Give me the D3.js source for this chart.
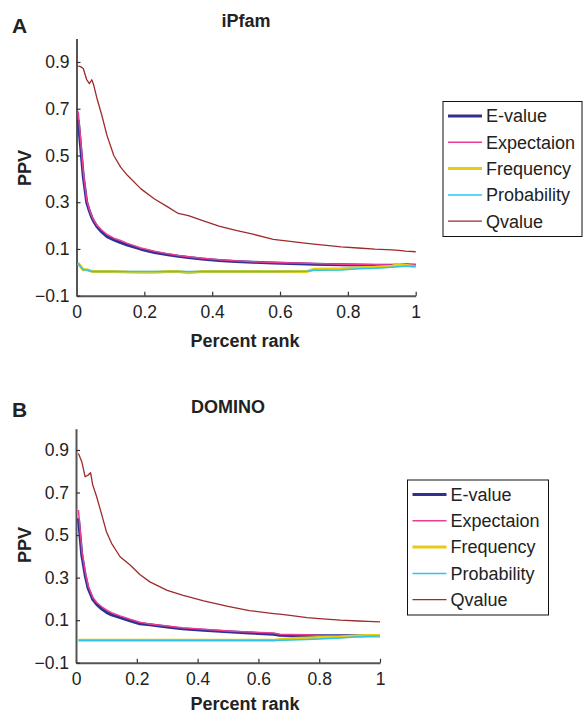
<!DOCTYPE html>
<html>
<head>
<meta charset="utf-8">
<script src="https://cdn.jsdelivr.net/npm/d3@7"></script>
<style>
  body { margin: 0; background: #fff; }
  svg text { font-family: "Liberation Sans", Arial, Helvetica, sans-serif; fill: #222; }
</style>
</head>
<body>
<div id="chart"></div>
<script>
// series names and colours (legend order)
const seriesNames = ["E-value", "Expectaion", "Frequency", "Probability", "Qvalue"];
const seriesColors = ["#2e3192", "#ec3d96", "#e8cc10", "#2ec4ef", "#9e2a2b"];
const seriesWidths = [3, 1.5, 3, 1.5, 1.3];

const yTicks = [-0.1, 0.1, 0.3, 0.5, 0.7, 0.9];
const xTicks = [0, 0.2, 0.4, 0.6, 0.8, 1];

// panel A - iPfam
const rankA = [0.005, 0.012, 0.02, 0.03, 0.038, 0.045, 0.05, 0.06, 0.075, 0.09, 0.11, 0.13, 0.15, 0.19, 0.23, 0.27, 0.3, 0.33, 0.37, 0.42, 0.47, 0.52, 0.58, 0.68, 0.7, 0.78, 0.83, 0.88, 0.93, 0.95, 0.97, 1.0];
const evalueA = [0.653, 0.54, 0.41, 0.30, 0.262, 0.235, 0.22, 0.196, 0.172, 0.153, 0.139, 0.127, 0.117, 0.099, 0.085, 0.075, 0.069, 0.063, 0.057, 0.051, 0.046, 0.043, 0.04, 0.036, 0.035, 0.032, 0.031, 0.03, 0.03, 0.031, 0.032, 0.03];
const expectA = [0.689, 0.57, 0.43, 0.31, 0.268, 0.24, 0.226, 0.202, 0.18, 0.162, 0.146, 0.136, 0.124, 0.104, 0.09, 0.079, 0.072, 0.067, 0.06, 0.054, 0.049, 0.045, 0.042, 0.039, 0.038, 0.035, 0.033, 0.032, 0.031, 0.031, 0.032, 0.033];
const freqA = [0.039, 0.025, 0.011, 0.011, 0.008, 0.004, 0.004, 0.004, 0.004, 0.004, 0.004, 0.003, 0.001, 0.0, 0.0, 0.004, 0.004, -0.002, 0.004, 0.004, 0.004, 0.004, 0.004, 0.004, 0.013, 0.015, 0.02, 0.022, 0.026, 0.034, 0.03, 0.024];
const probA = [0.039, 0.025, 0.011, 0.01, 0.007, 0.004, 0.004, 0.004, 0.004, 0.004, 0.004, 0.004, 0.004, 0.004, 0.004, 0.004, 0.004, 0.004, 0.004, 0.004, 0.004, 0.004, 0.004, 0.005, 0.009, 0.01, 0.015, 0.017, 0.022, 0.024, 0.026, 0.026];
const qvalueA = [0.882, 0.88, 0.872, 0.824, 0.807, 0.824, 0.805, 0.746, 0.67, 0.585, 0.50, 0.45, 0.415, 0.357, 0.314, 0.279, 0.252, 0.243, 0.222, 0.198, 0.179, 0.163, 0.141, 0.124, 0.121, 0.109, 0.104, 0.099, 0.096, 0.094, 0.091, 0.088];

// panel B - DOMINO
const rankB = [0.008, 0.019, 0.03, 0.04, 0.048, 0.055, 0.068, 0.085, 0.1, 0.117, 0.145, 0.178, 0.21, 0.243, 0.3, 0.35, 0.42, 0.5, 0.57, 0.65, 0.67, 0.71, 0.76, 0.8, 0.87, 0.93, 0.96, 1.0];
const evalueB = [0.579, 0.406, 0.312, 0.249, 0.222, 0.198, 0.174, 0.152, 0.137, 0.125, 0.112, 0.097, 0.083, 0.078, 0.068, 0.059, 0.053, 0.045, 0.04, 0.034, 0.029, 0.028, 0.028, 0.027, 0.027, 0.027, 0.027, 0.027];
const expectB = [0.618, 0.43, 0.33, 0.262, 0.232, 0.208, 0.183, 0.163, 0.148, 0.135, 0.12, 0.104, 0.09, 0.082, 0.072, 0.064, 0.057, 0.049, 0.044, 0.04, 0.034, 0.032, 0.031, 0.028, 0.027, 0.026, 0.027, 0.027];
const freqB = [0.005, 0.005, 0.005, 0.005, 0.005, 0.005, 0.005, 0.005, 0.005, 0.005, 0.005, 0.005, 0.005, 0.005, 0.005, 0.005, 0.005, 0.005, 0.005, 0.005, 0.009, 0.014, 0.016, 0.018, 0.021, 0.027, 0.028, 0.028];
const probB = [0.005, 0.005, 0.005, 0.005, 0.005, 0.005, 0.005, 0.005, 0.005, 0.005, 0.005, 0.005, 0.005, 0.005, 0.005, 0.005, 0.005, 0.005, 0.005, 0.005, 0.005, 0.007, 0.009, 0.011, 0.016, 0.022, 0.024, 0.025];
const qvalueB = [0.884, 0.845, 0.774, 0.782, 0.793, 0.735, 0.68, 0.594, 0.516, 0.461, 0.398, 0.359, 0.315, 0.28, 0.24, 0.218, 0.191, 0.165, 0.145, 0.131, 0.128, 0.121, 0.112, 0.107, 0.1, 0.096, 0.094, 0.092];

const svg = d3.select("#chart").append("svg")
    .attr("width", 584)
    .attr("height", 713);

function drawPanel(opt){
    const g = svg.append("g");
    const x = d3.scaleLinear().domain([0, 1]).range([opt.left, opt.right]);
    const y = d3.scaleLinear().domain([-0.1, 1.0]).range([opt.bottom, opt.top]);

    // axes, ticks pointing inside like matlab
    const xAxis = g.append("g")
        .attr("transform", "translate(0," + opt.bottom + ")")
        .call(d3.axisBottom(x).tickValues(xTicks).tickSizeInner(-4).tickSizeOuter(0).tickPadding(10)
            .tickFormat(d => d3.format("")(d)));
    const yAxis = g.append("g")
        .attr("transform", "translate(" + opt.left + ",0)")
        .call(d3.axisLeft(y).tickValues(yTicks).tickSizeInner(-4).tickSizeOuter(0).tickPadding(7)
            .tickFormat(d => d < 0 ? "\u2212" + Math.abs(d) : String(d)));
    [xAxis, yAxis].forEach(a => {
        a.select(".domain").attr("stroke", "#555").attr("stroke-width", 2);
        a.selectAll(".tick line").attr("stroke", "#333").attr("stroke-width", 1.2);
        a.selectAll(".tick text").attr("font-size", 17.5).attr("fill", "#222")
            .style("font-family", "'Liberation Sans', Arial, sans-serif");
    });

    // lines
    const line = d3.line()
        .x(d => x(d[0]))
        .y(d => y(d[1]));
    opt.values.forEach((vals, i) => {
        g.append("path")
            .datum(opt.rank.map((r, j) => [r, vals[j]]))
            .attr("fill", "none")
            .attr("stroke", seriesColors[i])
            .attr("stroke-width", seriesWidths[i])
            .attr("stroke-linejoin", "round")
            .attr("d", line);
    });

    // texts
    g.append("text").attr("x", 12).attr("y", opt.letterY)
        .attr("font-size", 21).attr("font-weight", "bold").text(opt.letter);
    g.append("text").attr("x", opt.titleX).attr("y", opt.titleY)
        .attr("text-anchor", "middle").attr("font-size", 18).attr("font-weight", "bold").text(opt.title);
    g.append("text").attr("x", 245).attr("y", opt.xLabelY)
        .attr("text-anchor", "middle").attr("font-size", 18).attr("font-weight", "bold").text("Percent rank");
    g.append("text")
        .attr("transform", "translate(31," + opt.ppvY + ") rotate(-90)")
        .attr("text-anchor", "middle").attr("font-size", 18).attr("font-weight", "bold").text("PPV");

    // legend
    const lg = g.append("g").attr("transform", "translate(" + opt.legX + "," + opt.legY + ")");
    lg.append("rect").attr("width", opt.legW).attr("height", 135)
        .attr("fill", "#fff").attr("stroke", "#111").attr("stroke-width", 1);
    seriesNames.forEach((name, i) => {
        const yy = 14.5 + i * 26.3;
        lg.append("line").attr("x1", 5).attr("x2", 39).attr("y1", yy).attr("y2", yy)
            .attr("stroke", seriesColors[i]).attr("stroke-width", seriesWidths[i]);
        lg.append("text").attr("x", 43).attr("y", yy).attr("dy", "0.35em")
            .attr("font-size", 18).text(name);
    });
}

drawPanel({
    left: 76.5, right: 415.7, top: 38.6, bottom: 295.7,
    rank: rankA, values: [evalueA, expectA, freqA, probA, qvalueA],
    letter: "A", letterY: 33, title: "iPfam", titleX: 246, titleY: 27, ppvY: 168,
    xLabelY: 347, legX: 443, legY: 101.5, legW: 139
});
drawPanel({
    left: 76, right: 380, top: 428.7, bottom: 662.7,
    rank: rankB, values: [evalueB, expectB, freqB, probB, qvalueB],
    letter: "B", letterY: 417, title: "DOMINO", titleX: 228, titleY: 413, ppvY: 545,
    xLabelY: 710, legX: 407.5, legY: 480, legW: 141
});
</script>
</body>
</html>
